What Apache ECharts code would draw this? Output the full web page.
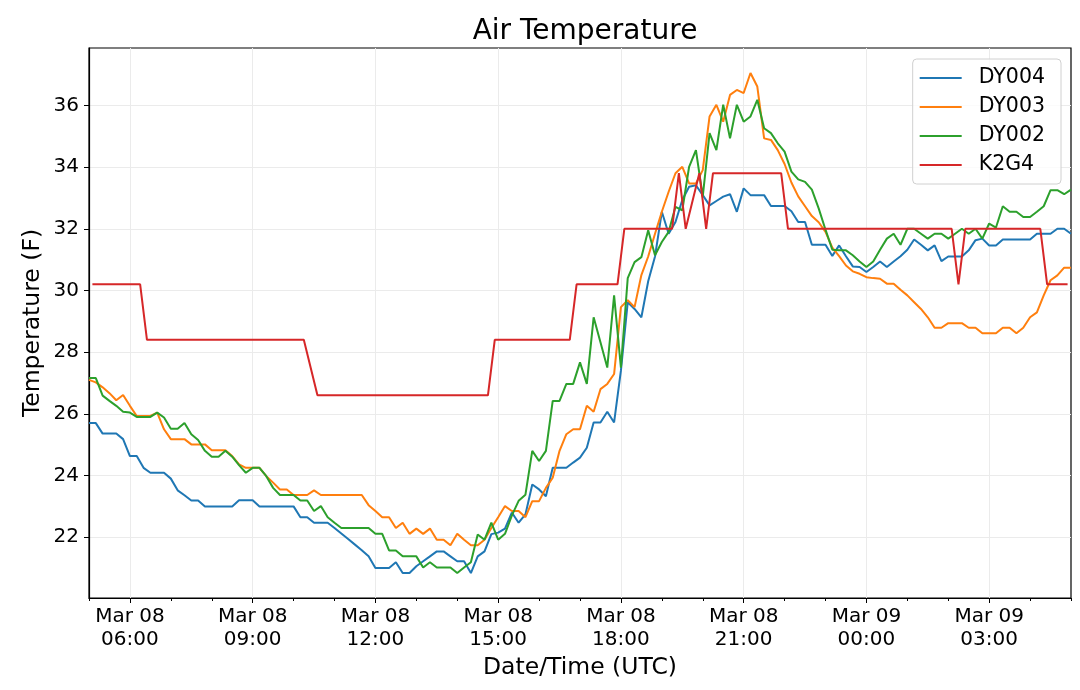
<!DOCTYPE html>
<html>
<head>
<meta charset="utf-8">
<title>Air Temperature</title>
<script src="https://cdn.jsdelivr.net/npm/echarts@6/dist/echarts.min.js"></script>
<style>
html, body { margin: 0; padding: 0; background: #fff; }
#main { width: 1080px; height: 690px; }
</style>
</head>
<body>
<div id="main"></div>
<script>
// DY stations: one reading every 10 minutes from Mar 08 05:00 UTC
var stationStart = 'Mar 08 05:00';
var stationStepMin = 10;

var dy004 = [
    25.7, 25.7, 25.36, 25.36, 25.36, 25.18, 24.63, 24.63, 24.25, 24.09,
    24.09, 24.09, 23.9, 23.52, 23.36, 23.19, 23.19, 23.0, 23.0, 23.0,
    23.0, 23.0, 23.2, 23.2, 23.2, 23.0, 23.0, 23.0, 23.0, 23.0,
    23.0, 22.65, 22.65, 22.47, 22.47, 22.47, 22.3, 22.12, 21.94, 21.76,
    21.58, 21.38, 21.0, 21.0, 21.0, 21.19, 20.84, 20.84, 21.06, 21.22,
    21.38, 21.54, 21.54, 21.38, 21.22, 21.22, 20.84, 21.38, 21.54, 22.1,
    22.15, 22.28, 22.8, 22.47, 22.74, 23.71, 23.55, 23.33, 24.25, 24.25,
    24.25, 24.42, 24.58, 24.9, 25.72, 25.72, 26.07, 25.72, 27.4, 29.62,
    29.4, 29.13, 30.3, 31.1, 32.55, 31.84, 32.22, 32.93, 33.36, 33.41,
    33.09, 32.76, 32.9, 33.04, 33.12, 32.55, 33.31, 33.09, 33.09, 33.09,
    32.74, 32.74, 32.74, 32.57, 32.22, 32.22, 31.48, 31.48, 31.48, 31.12,
    31.46, 31.11, 30.78, 30.76, 30.6, 30.76, 30.94, 30.76, 30.94, 31.11,
    31.32, 31.65, 31.48, 31.3, 31.46, 30.95, 31.1, 31.1, 31.1, 31.3,
    31.63, 31.68, 31.46, 31.46, 31.65, 31.65, 31.65, 31.65, 31.65, 31.84,
    31.84, 31.84, 32.0, 32.0, 31.84
];

var dy003 = [
    27.1, 27.02, 26.86, 26.67, 26.44, 26.61, 26.26, 25.93, 25.93, 25.93,
    26.04, 25.5, 25.18, 25.18, 25.18, 25.01, 25.01, 25.01, 24.82, 24.82,
    24.82, 24.63, 24.36, 24.25, 24.25, 24.25, 23.98, 23.77, 23.55, 23.55,
    23.37, 23.37, 23.37, 23.52, 23.37, 23.37, 23.37, 23.37, 23.37, 23.37,
    23.37, 23.04, 22.85, 22.65, 22.65, 22.3, 22.47, 22.11, 22.28, 22.11,
    22.28, 21.92, 21.92, 21.74, 22.11, 21.92, 21.74, 21.74, 21.92, 22.3,
    22.65, 23.01, 22.85, 22.85, 22.65, 23.17, 23.17, 23.6, 23.93, 24.8,
    25.34, 25.5, 25.5, 26.26, 26.07, 26.8, 26.97, 27.29, 29.46, 29.68,
    29.46, 30.5, 31.1, 31.84, 32.55, 33.2, 33.8, 34.01, 33.47, 33.47,
    33.9, 35.64, 36.02, 35.47, 36.34, 36.5, 36.4, 37.05, 36.61, 34.93,
    34.88, 34.55, 34.1, 33.5, 33.05, 32.73, 32.41, 32.21, 31.9, 31.39,
    31.11, 30.81, 30.62, 30.54, 30.43, 30.4, 30.38, 30.22, 30.22, 30.02,
    29.84, 29.62, 29.4, 29.13, 28.79, 28.79, 28.94, 28.94, 28.94, 28.79,
    28.79, 28.61, 28.61, 28.61, 28.79, 28.79, 28.61, 28.79, 29.13, 29.29,
    29.84, 30.33, 30.49, 30.74, 30.74
];

var dy002 = [
    27.16, 27.16, 26.59, 26.42, 26.26, 26.07, 26.04, 25.9, 25.9, 25.9,
    26.04, 25.88, 25.52, 25.52, 25.7, 25.34, 25.15, 24.8, 24.61, 24.61,
    24.8, 24.61, 24.34, 24.09, 24.25, 24.25, 23.98, 23.6, 23.37, 23.37,
    23.37, 23.19, 23.19, 22.85, 23.01, 22.65, 22.47, 22.3, 22.3, 22.3,
    22.3, 22.3, 22.11, 22.11, 21.57, 21.57, 21.38, 21.38, 21.38, 21.02,
    21.19, 21.02, 21.02, 21.02, 20.84, 21.02, 21.19, 22.09, 21.92, 22.47,
    21.92, 22.11, 22.7, 23.18, 23.38, 24.8, 24.47, 24.8, 26.42, 26.42,
    26.97, 26.97, 27.67, 26.97, 29.13, 28.32, 27.5, 29.84, 27.5, 30.4,
    30.92, 31.08, 31.95, 31.14, 31.57, 31.9, 32.71, 32.6, 34.01, 34.55,
    33.04, 35.1, 34.55, 36.02, 34.93, 36.02, 35.47, 35.64, 36.18, 35.26,
    35.1, 34.77, 34.5, 33.85, 33.6, 33.52, 33.27, 32.66, 31.97, 31.32,
    31.3, 31.3, 31.14, 30.94, 30.76, 30.94, 31.32, 31.68, 31.84, 31.48,
    32.0, 32.0, 31.84, 31.68, 31.84, 31.84, 31.68, 31.84, 32.0, 31.84,
    32.0, 31.68, 32.17, 32.04, 32.73, 32.55, 32.55, 32.38, 32.38, 32.55,
    32.73, 33.25, 33.25, 33.12, 33.27
];

// K2G4 reports on its own clock
var k2g4Times = [
    'Mar 08 05:05', 'Mar 08 06:15', 'Mar 08 06:25', 'Mar 08 10:15', 'Mar 08 10:35',
    'Mar 08 14:45', 'Mar 08 14:55', 'Mar 08 16:45', 'Mar 08 16:55', 'Mar 08 17:55',
    'Mar 08 18:05', 'Mar 08 19:15', 'Mar 08 19:25', 'Mar 08 19:35', 'Mar 08 19:55',
    'Mar 08 20:05', 'Mar 08 20:15', 'Mar 08 21:55', 'Mar 08 22:05', 'Mar 09 02:05',
    'Mar 09 02:15', 'Mar 09 02:25', 'Mar 09 04:15', 'Mar 09 04:25', 'Mar 09 04:55'
];
var k2g4 = [
    30.2, 30.2, 28.4, 28.4, 26.6,
    26.6, 28.4, 28.4, 30.2, 30.2,
    32.0, 32.0, 33.8, 32.0, 33.8,
    32.0, 33.8, 33.8, 32.0, 32.0,
    30.2, 32.0, 32.0, 30.2, 30.2
];

var xTickHours = [6, 9, 12, 15, 18, 21, 24, 27];
var yTicks = [22, 24, 26, 28, 30, 32, 34, 36];

// x axis is hours after Mar 08 00:00 UTC
function toHours(s) {
    var p = s.split(' ');
    var hm = p[2].split(':');
    return (parseInt(p[1], 10) - 8) * 24 + parseInt(hm[0], 10) + parseInt(hm[1], 10) / 60;
}

function hourLabel(h) {
    var day = h >= 24 ? '09' : '08';
    var hh = Math.round(h) % 24;
    return 'Mar ' + day + '\n' + (hh < 10 ? '0' : '') + hh + ':00';
}

function stationSeries(values) {
    var t0 = toHours(stationStart);
    return values.map(function (v, i) {
        return [t0 + i * stationStepMin / 60, v];
    });
}

var minorHours = [];
for (var h = 5; h <= 29; h++) {
    if (xTickHours.indexOf(h) < 0) minorHours.push(h);
}

var font = 'DejaVu Sans';
var chart = echarts.init(document.getElementById('main'));
chart.setOption({
    animation: false,
    backgroundColor: '#fff',
    textStyle: { fontFamily: font },
    title: {
        text: 'Air Temperature',
        left: 580,
        textAlign: 'center',
        top: 13,
        textStyle: { fontFamily: font, fontSize: 28, fontWeight: 'normal', color: '#000' }
    },
    legend: {
        orient: 'vertical',
        right: 19,
        top: 59,
        padding: [7, 16, 7, 7],
        itemGap: 5,
        itemWidth: 42,
        itemHeight: 2,
        icon: 'rect',
        borderColor: '#d0d0d0',
        borderWidth: 1,
        borderRadius: 4,
        backgroundColor: 'rgba(255,255,255,0.8)',
        textStyle: { fontFamily: font, fontSize: 20.5, color: '#000', lineHeight: 24, padding: [0, 0, 0, 12] },
        data: ['DY004', 'DY003', 'DY002', 'K2G4']
    },
    grid: {
        left: 89,
        right: 9,
        top: 48,
        bottom: 92,
        show: true,
        borderColor: '#000',
        borderWidth: 1.2
    },
    xAxis: [{
        type: 'value',
        min: 5,
        max: 29,
        splitNumber: 8,
        name: 'Date/Time (UTC)',
        nameLocation: 'middle',
        nameGap: 52,
        nameTextStyle: { fontFamily: font, fontSize: 23.5, color: '#000' },
        axisLine: { lineStyle: { color: '#000', width: 1.2 } },
        axisTick: { customValues: xTickHours, length: 5, lineStyle: { color: '#000' } },
        axisLabel: {
            customValues: xTickHours,
            margin: 7,
            fontFamily: font,
            fontSize: 20,
            lineHeight: 23,
            color: '#000',
            formatter: hourLabel
        },
        splitLine: { show: true, lineStyle: { color: '#ebebeb', width: 1 } }
    }, {
        type: 'value',
        min: 5,
        max: 29,
        position: 'bottom',
        axisLine: { show: false },
        axisTick: { customValues: minorHours, length: 3, lineStyle: { color: '#000' } },
        axisLabel: { show: false },
        splitLine: { show: false }
    }],
    yAxis: {
        type: 'value',
        min: 20.03,
        max: 37.86,
        splitNumber: 9,
        name: 'Temperature (F)',
        nameLocation: 'middle',
        nameGap: 44,
        nameMoveOverlap: false,
        nameTextStyle: { fontFamily: font, fontSize: 23.5, color: '#000' },
        axisLine: { show: true, lineStyle: { color: '#000', width: 1.2 } },
        axisTick: { show: true, customValues: yTicks, length: 5, lineStyle: { color: '#000' } },
        axisLabel: { customValues: yTicks, margin: 10, fontFamily: font, fontSize: 20, color: '#000' },
        splitLine: { show: true, lineStyle: { color: '#ebebeb', width: 1 } }
    },
    series: [
        { name: 'DY004', type: 'line', data: stationSeries(dy004), symbol: 'none', color: '#1f77b4', lineStyle: { width: 2 } },
        { name: 'DY003', type: 'line', data: stationSeries(dy003), symbol: 'none', color: '#ff7f0e', lineStyle: { width: 2 } },
        { name: 'DY002', type: 'line', data: stationSeries(dy002), symbol: 'none', color: '#2ca02c', lineStyle: { width: 2 } },
        {
            name: 'K2G4', type: 'line', symbol: 'none', color: '#d62728', lineStyle: { width: 2 },
            data: k2g4Times.map(function (t, i) { return [toHours(t), k2g4[i]]; })
        }
    ]
});
</script>
</body>
</html>
